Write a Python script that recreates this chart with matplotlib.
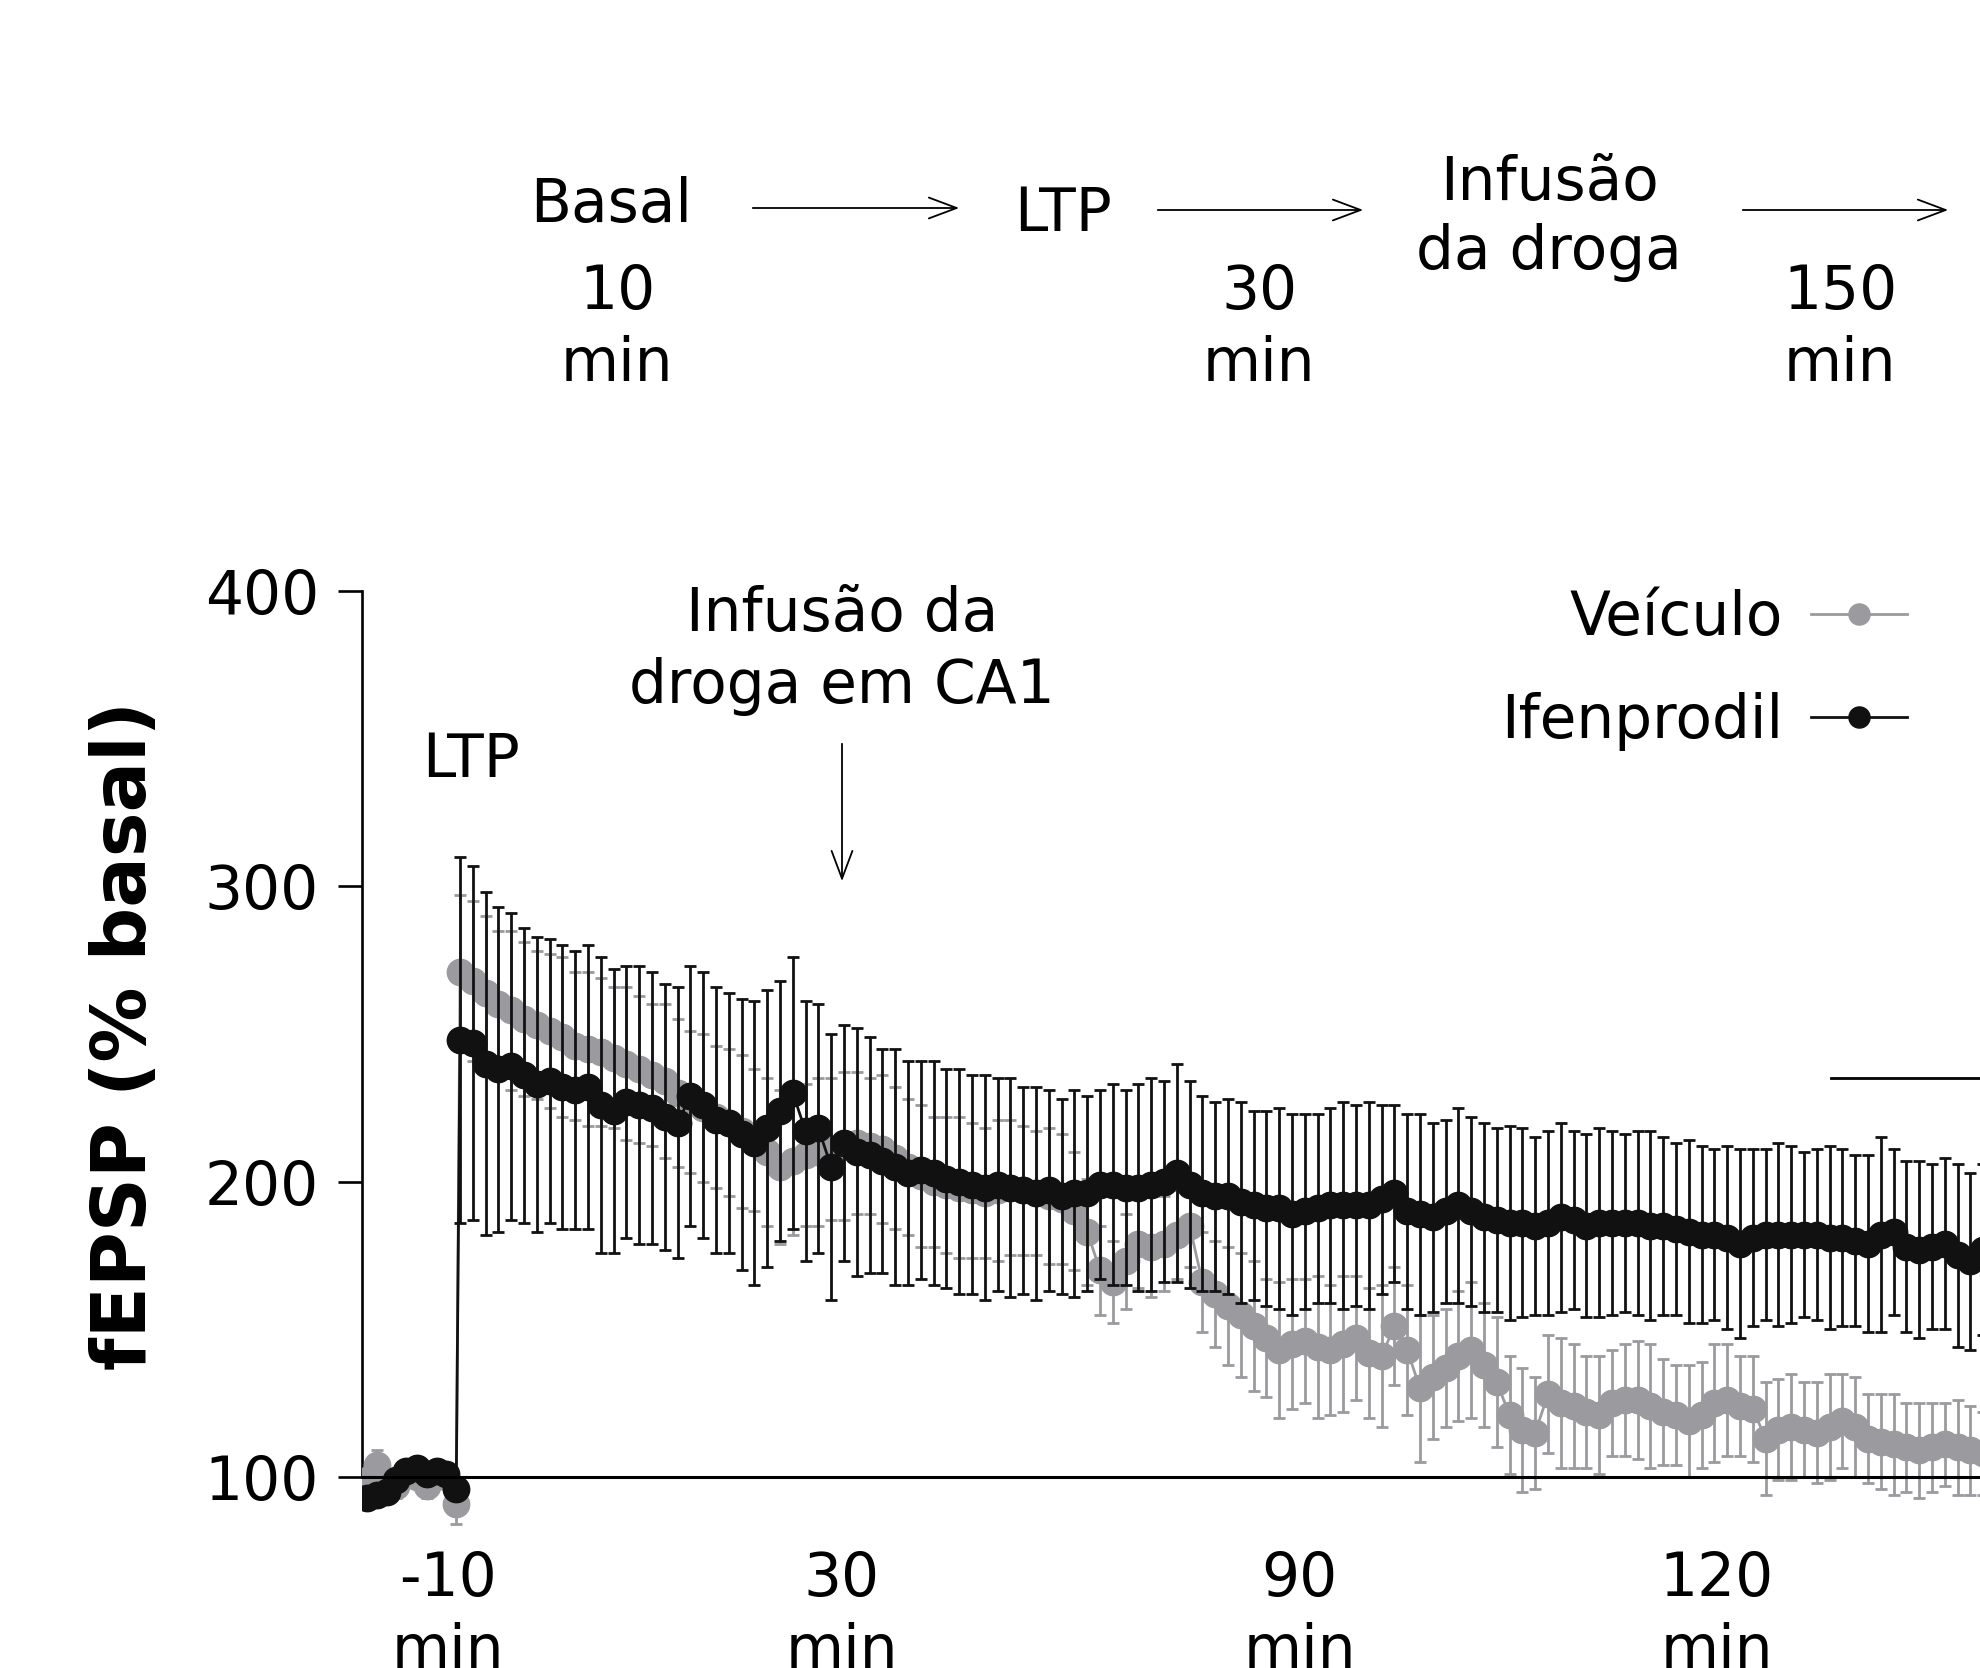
import matplotlib
matplotlib.use("Agg")
import matplotlib.pyplot as plt
import numpy as np

# baseline (before LTP), minutes
base_t = [-7.3, -6.5, -5.7, -5.0, -4.2, -3.4, -2.6, -1.8, -1.1, -0.3]
veh_base = [99, 104, 98, 97, 101, 100, 97, 101, 100, 91]
veh_base_err = [4, 5, 3, 4, 3, 3, 4, 3, 3, 7]
ifen_base = [93, 94, 95, 99, 102, 103, 101, 102, 101, 96]
ifen_base_err = [3, 3, 3, 3, 2, 2, 3, 2, 2, 3]

# after LTP, one sample per minute
ltp_t = np.arange(0, 120)

veh_mean = [271, 268, 264, 260, 258, 255, 253, 251, 249, 246,
            245, 244, 242, 240, 238, 236, 234, 230, 227, 225,
            222, 220, 217, 214, 210, 205, 207, 209, 210, 211,
            212, 213, 212, 211, 208, 205, 202, 200, 199, 198,
            197, 196, 197, 198, 197, 196, 195, 194, 190, 183,
            170, 166, 173, 179, 178, 179, 182, 185, 166, 162,
            158, 155, 151, 147, 143, 145, 146, 144, 143, 145,
            147, 142, 141, 151, 143, 130, 134, 137, 141, 143,
            138, 132, 121, 116, 115, 128, 125, 124, 122, 121,
            125, 126, 126, 124, 122, 121, 119, 121, 125, 126,
            124, 123, 113, 116, 117, 116, 115, 117, 119, 117,
            113, 112, 111, 110, 109, 110, 111, 110, 109, 108]
veh_err = [26, 27, 26, 25, 27, 26, 25, 26, 27, 25,
           26, 25, 24, 26, 25, 24, 26, 25, 24, 25,
           24, 25, 26, 24, 25, 26, 25, 24, 25, 24,
           25, 24, 23, 25, 24, 23, 24, 22, 23, 24,
           23, 22, 24, 23, 22, 21, 23, 22, 20, 18,
           15, 14, 16, 15, 17, 16, 15, 14, 17, 18,
           20, 21, 22, 20, 23, 22, 21, 24, 22, 23,
           21, 22, 24, 20, 22, 25, 21, 20, 22, 23,
           21, 22, 20, 21, 19, 20, 22, 21, 19, 20,
           18, 19, 20, 21, 18, 17, 19, 18, 20, 19,
           17, 18, 19, 17, 18, 16, 17, 18, 16, 17,
           15, 16, 17, 15, 16, 15, 14, 16, 15, 14]

ifen_mean = [248, 247, 240, 238, 239, 236, 233, 234, 232, 231,
             232, 226, 224, 227, 226, 225, 222, 220, 229, 226,
             221, 220, 216, 213, 218, 224, 230, 217, 218, 205,
             213, 210, 209, 207, 205, 203, 204, 203, 201, 200,
             199, 198, 199, 198, 197, 196, 197, 195, 196, 196,
             199, 199, 198, 198, 199, 200, 203, 199, 196, 195,
             195, 193, 192, 191, 191, 189, 190, 191, 192, 192,
             192, 192, 194, 196, 190, 189, 188, 190, 192, 190,
             188, 187, 186, 186, 185, 186, 188, 187, 185, 186,
             186, 186, 186, 185, 185, 184, 183, 182, 182, 181,
             179, 181, 182, 182, 182, 182, 182, 181, 181, 180,
             179, 182, 183, 178, 177, 178, 179, 175, 173, 177]
ifen_err = [62, 60, 58, 55, 52, 50, 50, 48, 48, 47,
            48, 50, 48, 46, 47, 46, 45, 46, 44, 45,
            45, 44, 46, 48, 47, 44, 46, 44, 42, 45,
            40, 42, 40, 38, 40, 38, 37, 38, 37, 38,
            37, 38, 36, 37, 35, 36, 34, 33, 35, 33,
            32, 34, 33, 35, 36, 34, 37, 35, 33, 32,
            33, 34, 32, 33, 34, 34, 33, 32, 33, 35,
            34, 35, 32, 30, 33, 34, 32, 31, 33, 32,
            32, 31, 33, 32, 30, 31, 32, 30, 31, 32,
            31, 30, 31, 32, 30, 29, 31, 30, 29, 31,
            32, 30, 29, 31, 30, 28, 29, 31, 30, 29,
            30, 33, 28, 29, 30, 28, 29, 31, 30, 29]

sig_x = [107.1, 125]
sig_y = [235, 235]

xtick_pos = [-0.94, 29.8, 65.6, 98.2]
xtick_lab = ['-10\nmin', '30\nmin', '90\nmin', '120\nmin']
yticks = [100, 200, 300, 400]

W, H = 1980, 1668
GREY = '#9b9b9f'
BLACK = '#111111'
FS = 43

def fx(x):
    return x / W

def fy(y):
    return 1 - y / H

fig = plt.figure(figsize=(W / 100, H / 100), dpi=100)
ax = fig.add_axes([fx(362), fy(1536), 1 - fx(362), (1536 - 591) / H])

t_veh = list(base_t) + list(ltp_t)
y_veh = veh_base + veh_mean
e_veh = veh_base_err + veh_err
t_ifen = list(base_t) + list(ltp_t)
y_ifen = ifen_base + ifen_mean
e_ifen = ifen_base_err + ifen_err

ax.errorbar(t_veh, y_veh, yerr=e_veh, fmt='none', ecolor=GREY,
            elinewidth=2.0, capsize=4.5, capthick=2.0, zorder=2)
ax.plot(t_veh, y_veh, color=GREY, lw=2, marker='o', ms=19,
        mec=GREY, mfc=GREY, zorder=3, label='Veículo')
ax.errorbar(t_ifen, y_ifen, yerr=e_ifen, fmt='none', ecolor=BLACK,
            elinewidth=2.0, capsize=4.5, capthick=2.0, zorder=4)
ax.plot(t_ifen, y_ifen, color=BLACK, lw=2, marker='o', ms=19,
        mec=BLACK, mfc=BLACK, zorder=5, label='Ifenprodil')

ax.axhline(100, color='black', lw=2.2, zorder=6)
ax.plot(sig_x, sig_y, color='black', lw=2, zorder=6)

ax.set_xlim(-7.66, 118.75)
ax.set_ylim(80, 400)
for s in ['top', 'right', 'bottom']:
    ax.spines[s].set_visible(False)
ax.spines['left'].set_bounds(100, 400)
ax.spines['left'].set_linewidth(1.9)
ax.set_yticks(yticks)
ax.set_yticklabels([str(v) for v in yticks], fontsize=FS)
ax.tick_params(axis='y', length=17, width=1.9, pad=14)
ax.set_xticks(xtick_pos)
ax.set_xticklabels(xtick_lab, fontsize=FS, linespacing=1.28)
ax.tick_params(axis='x', length=0, pad=10)

leg = ax.legend(loc='upper right', bbox_to_anchor=(fx(1907), fy(589)),
                bbox_transform=fig.transFigure, frameon=False, markerfirst=False,
                fontsize=FS, handlelength=1.6, handletextpad=0.48,
                labelspacing=0.73, borderpad=0, borderaxespad=0, markerscale=0.8)

fig.text(fx(126), fy(1035), 'fEPSP (% basal)', rotation=90, fontsize=54,
         fontweight='bold', ha='center', va='center')

# annotations inside the plot
fig.text(fx(471), fy(777), 'LTP', fontsize=FS, ha='center', va='baseline')
fig.text(fx(842), fy(631), 'Infusão da', fontsize=FS, ha='center', va='baseline')
fig.text(fx(842), fy(703), 'droga em CA1', fontsize=FS, ha='center', va='baseline')
fig.add_artist(matplotlib.patches.FancyArrowPatch(
    (fx(842), fy(741)), (fx(842), fy(884)), transform=fig.transFigure,
    arrowstyle='->,head_length=0.8,head_width=0.3', mutation_scale=25, lw=1.3,
    color='black'))

# protocol at the top
fig.text(fx(611), fy(222), 'Basal', fontsize=FS, ha='center', va='baseline')
fig.text(fx(1063), fy(231), 'LTP', fontsize=FS, ha='center', va='baseline')
fig.text(fx(1549), fy(200), 'Infusão', fontsize=FS, ha='center', va='baseline')
fig.text(fx(1549), fy(269), 'da droga', fontsize=FS, ha='center', va='baseline')
for xc, num in [(617, '10'), (1259, '30'), (1840, '150')]:
    fig.text(fx(xc), fy(309), num, fontsize=FS, ha='center', va='baseline')
    fig.text(fx(xc), fy(381), 'min', fontsize=FS, ha='center', va='baseline')
for x0, x1, yy in [(750, 962, 208), (1155, 1366, 210), (1740, 1951, 210)]:
    fig.add_artist(matplotlib.patches.FancyArrowPatch(
        (fx(x0), fy(yy)), (fx(x1), fy(yy)), transform=fig.transFigure,
        arrowstyle='->,head_length=0.8,head_width=0.3', mutation_scale=25,
        lw=1.3, color='black'))

fig.savefig('out.png', dpi=100)
